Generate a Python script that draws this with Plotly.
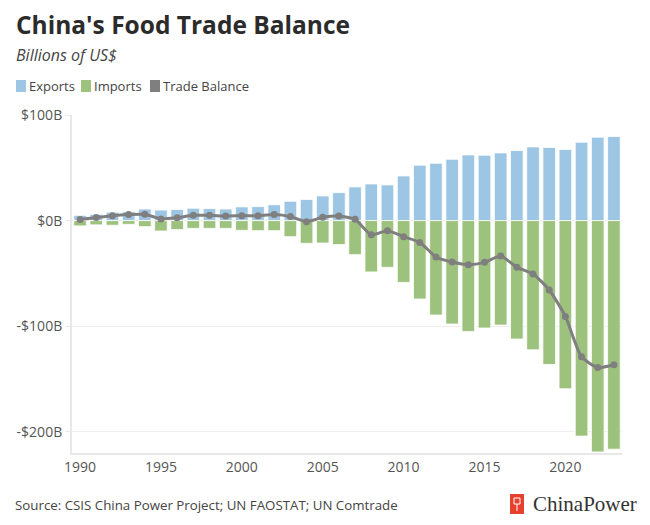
import plotly.graph_objects as go

years = list(range(1990, 2024))

exports = [5, 6, 8, 8.5, 11, 10, 10.5, 11.7, 11.4, 11, 13, 13.3, 15, 18.3, 20, 23.4,
           26.5, 31.9, 34.7, 33.8, 42.3, 52.5, 54.3, 58.1, 62.2, 61.9, 64.1, 66.4,
           69.8, 69.2, 67.3, 74.2, 79, 79.6]

imports = [-5, -4, -4.4, -3.5, -5.7, -9.8, -8.5, -7.3, -7.3, -7.3, -9.2, -9.5, -9.5,
           -15.2, -21.5, -21.2, -22.7, -32.2, -48.6, -44.2, -58.5, -74.2, -89.4, -97.9,
           -104.9, -101.7, -98.9, -112.1, -122.3, -136.2, -159.2, -204, -219, -216.4]

balance = [1, 3, 4.7, 5.7, 6, 1.6, 2.8, 5, 5, 4.4, 4.7, 4.7, 5.7, 3.8, -1, 3.1,
           4.4, 1.2, -13.3, -9.5, -15.2, -20.6, -34.4, -39.2, -41.7, -39.5, -33.5,
           -44.2, -50.5, -65.7, -90.7, -128.9, -139, -136.4]

y_tickvals = [100, 0, -100, -200]
y_ticktext = ["$100B", "$0B", "-$100B", "-$200B"]
x_tickvals = [1990, 1995, 2000, 2005, 2010, 2015, 2020]

legend_names = ["Exports", "Imports", "Trade Balance"]

blue = "#9dc6e4"
green = "#9dc27e"
gray = "#7f7f7f"
font = "Open Sans"

# the page body has an 8px margin, so the figure is drawn 8px in from the corner
OFF = 8
W, H = 650 - OFF, 525 - OFF
# plot area in screen pixels: x 72..622, y 115..453
L, R, T, B = 72 - OFF, 650 - 622, 115 - OFF, 525 - 453


def px(x, y):
    # screen pixels -> paper coords
    x, y = x - OFF, y - OFF
    return (x - L) / (W - L - R), (H - B - y) / (H - T - B)


fig = go.Figure()

fig.add_trace(go.Bar(x=years, y=exports, name="Exports",
                     marker=dict(color=blue, line=dict(color="white", width=0.8))))
fig.add_trace(go.Bar(x=years, y=imports, name="Imports",
                     marker=dict(color=green, line=dict(color="white", width=0.8))))
fig.add_trace(go.Scatter(
    x=years, y=balance, mode="lines+markers", name="Trade Balance",
    line=dict(color=gray, width=3, shape="spline", smoothing=0.6),
    marker=dict(color=gray, size=7),
))

fig.update_layout(
    width=W, height=H,
    margin=dict(l=L, r=R, t=T, b=B, autoexpand=False),
    barmode="relative", bargap=0.22,
    plot_bgcolor="white", paper_bgcolor="white",
    font=dict(family=font, size=14, color="#555"),
    showlegend=False,
    xaxis=dict(range=[1989.5, 2023.5], tickvals=x_tickvals, showgrid=False,
               showline=True, linecolor="#e8e8e8", linewidth=2, ticks="", zeroline=False),
    yaxis=dict(range=[-220, 100], tickvals=y_tickvals, ticktext=y_ticktext,
               showgrid=True, gridcolor="#eeeeee", gridwidth=1, zeroline=False,
               showline=True, linecolor="#e8e8e8", linewidth=2,
               ticks="outside", ticklen=5, tickcolor="#e8e8e8"),
    hovermode=False,
)


def note(text, x, y, size, color, anchor="left", family=font):
    xp, yp = px(x, y)
    fig.add_annotation(text=text, xref="paper", yref="paper", x=xp, y=yp,
                       xanchor=anchor, yanchor="middle", showarrow=False, borderpad=0,
                       font=dict(family=family, size=size, color=color))


def box(x0, y0, x1, y1, fill, line=None):
    a, b = px(x0, y1)
    c, d = px(x1, y0)
    fig.add_shape(type="rect", xref="paper", yref="paper", x0=a, y0=b, x1=c, y1=d,
                  fillcolor=fill, line=line or dict(width=0), layer="above")


note("<b>China's Food Trade Balance</b>", 15, 25, 24.5, "#2b2b2b")
note("<i>Billions of US$</i>", 15, 55, 16, "#444")
note("Source: CSIS China Power Project; UN FAOSTAT; UN Comtrade", 14, 505, 13.3, "#444")
note("ChinaPower", 638, 504, 21, "#333", anchor="right", family="Liberation Serif")

# hand-drawn legend, colours follow the traces
swatch_x = [16, 81, 150]
for xs, name, col in zip(swatch_x, legend_names, [blue, green, gray]):
    box(xs, 80, xs + 10, 92, col)
    note(name, xs + 12, 86.5, 13, "#444")

# red logo mark
box(510, 494, 524, 514, "#e8402f")
box(514, 498, 520, 504, "rgba(0,0,0,0)", dict(color="white", width=1))
a, b = px(517, 504)
c, d = px(517, 511)
fig.add_shape(type="line", xref="paper", yref="paper", x0=a, y0=b, x1=c, y1=d,
              line=dict(color="white", width=1))

fig.write_html("out.html")
